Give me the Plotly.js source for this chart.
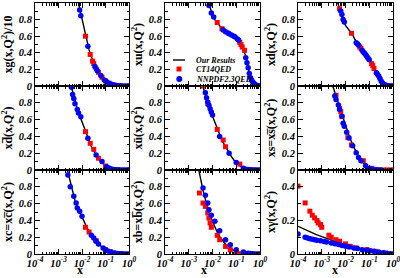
<!DOCTYPE html>
<html><head><meta charset="utf-8">
<script src="https://cdn.plot.ly/plotly-3.0.1.min.js"></script>
<style>html,body{margin:0;padding:0;background:#fff}#chart{width:400px;height:278px}</style>
</head><body><div id="chart"></div>
<script>
// ---------- data (x = momentum fraction, y = value) ----------
// xg/10
const gLineX = [0.00631,0.00794,0.01,0.0126,0.0158,0.02,0.0251,0.0316,0.0398,0.0501,0.0631,0.0794,0.1,0.126,0.158,0.251,0.398,0.631,1];
const gLineY = [1.06,0.93,0.80,0.67,0.54,0.435,0.35,0.27,0.21,0.16,0.12,0.085,0.06,0.04,0.025,0.01,0.003,0.001,0];
const gCtX = [0.0141,0.0224,0.0282,0.0316,0.0501,0.0708,0.1,0.141,0.224];
const gCtY = [0.60,0.38,0.30,0.27,0.165,0.105,0.062,0.033,0.012];
const gNnX = [0.00794,0.00891,0.0178,0.0355,0.0398,0.0447,0.0631,0.0891,0.112,0.141,0.178,0.224,0.282,0.355,0.447,0.562,0.708,0.891,1];
const gNnY = [0.916,0.847,0.48,0.235,0.21,0.185,0.125,0.073,0.05,0.033,0.02,0.012,0.007,0.004,0.002,0.001,0,0,0];
// xu
const uLineX = [0.00631,0.00794,0.01,0.0126,0.0158,0.02,0.0251,0.0316,0.0398,0.0501,0.0631,0.0794,0.1,0.126,0.158,0.2,0.251,0.282,0.316,0.355,0.398,0.501,0.631,0.794,1];
const uLineY = [1.03,0.94,0.86,0.80,0.76,0.72,0.69,0.665,0.645,0.63,0.615,0.60,0.58,0.55,0.50,0.44,0.36,0.30,0.22,0.15,0.10,0.045,0.015,0.003,0];
const uCtX = [0.0158,0.0251,0.141,0.158,0.178,0.224,0.891];
const uCtY = [0.765,0.69,0.525,0.50,0.47,0.43,0];
const uNnX = [0.00708,0.00891,0.0112,0.0282,0.0355,0.0447,0.0501,0.0631,0.0794,0.0891,0.112,0.126,0.251,0.282,0.316,0.355,0.398,0.447,0.501,0.562,0.631,0.708,0.794,0.891,1];
const uNnY = [0.97,0.88,0.83,0.675,0.655,0.64,0.63,0.615,0.60,0.59,0.565,0.55,0.34,0.28,0.22,0.15,0.10,0.07,0.045,0.03,0.015,0.008,0.003,0.001,0];
// xd
const dLineX = [0.00398,0.00501,0.00631,0.00794,0.01,0.0126,0.0158,0.02,0.0251,0.0316,0.0398,0.0501,0.0631,0.0794,0.1,0.126,0.158,0.2,0.251,0.316,0.398,0.501,0.631,1];
const dLineY = [1.07,0.98,0.89,0.79,0.73,0.69,0.655,0.615,0.56,0.52,0.475,0.435,0.395,0.355,0.315,0.27,0.22,0.17,0.12,0.065,0.03,0.01,0.003,0];
const dCtX = [0.00562,0.0178,0.0398,0.0447,0.126,0.141,0.158,0.794];
const dCtY = [0.93,0.635,0.47,0.455,0.27,0.245,0.21,0];
const dNnX = [0.00631,0.00708,0.00794,0.00891,0.0282,0.0316,0.0355,0.0501,0.0562,0.0631,0.0708,0.0794,0.0891,0.1,0.2,0.224,0.251,0.282,0.316,0.355,0.398,0.447,0.501,0.631,0.794,1];
const dNnY = [0.905,0.86,0.80,0.77,0.52,0.51,0.49,0.43,0.41,0.395,0.375,0.355,0.335,0.315,0.16,0.14,0.12,0.09,0.06,0.04,0.025,0.015,0.008,0.003,0,0];
// xdbar
const dbLineX = [0.00316,0.00398,0.00501,0.00631,0.00794,0.01,0.0126,0.0158,0.02,0.0251,0.0316,0.0398,0.0501,0.0631,0.0794,0.1,0.126,0.158,0.251,0.398,1];
const dbLineY = [1.04,0.93,0.82,0.73,0.65,0.575,0.49,0.41,0.34,0.28,0.225,0.175,0.135,0.10,0.07,0.048,0.03,0.018,0.006,0.001,0];
const dbCtX = [0.0141,0.0224,0.0316,0.0501,0.1];
const dbCtY = [0.456,0.318,0.246,0.14,0.048];
const dbNnX = [0.00355,0.00398,0.00447,0.00501,0.00631,0.00708,0.00891,0.0178,0.0398,0.0708,0.112,0.141,0.178,0.224,0.282,0.355,0.447,0.562,0.708,0.891,1];
const dbNnY = [0.985,0.90,0.85,0.79,0.72,0.68,0.635,0.377,0.18,0.10,0.04,0.025,0.012,0.007,0.004,0.002,0.001,0,0,0,0];
// xubar
const ubLineX = [0.00355,0.00398,0.00501,0.00631,0.00794,0.01,0.0126,0.0158,0.02,0.0251,0.0316,0.0398,0.0501,0.0631,0.0794,0.1,0.126,0.158,0.2,0.251,0.398,1];
const ubLineY = [1.04,0.99,0.90,0.80,0.71,0.64,0.565,0.49,0.415,0.355,0.30,0.25,0.20,0.16,0.12,0.09,0.065,0.04,0.022,0.01,0.002,0];
const ubCtX = [0.00398,0.00631,0.0158,0.0282,0.0355,0.141,0.562];
const ubCtY = [1.0,0.79,0.484,0.357,0.277,0.07,0];
const ubNnX = [0.00501,0.00562,0.00631,0.00708,0.00794,0.00891,0.01,0.02,0.0501,0.1,0.2,0.251,0.316,0.398,0.501,0.631,0.794,1];
const ubNnY = [0.92,0.86,0.81,0.77,0.73,0.69,0.655,0.40,0.20,0.09,0.02,0.01,0.005,0.002,0.001,0,0,0];
// xs = xsbar
const sLineX = [0.00282,0.00316,0.00398,0.00501,0.00631,0.00794,0.01,0.0126,0.0158,0.02,0.0251,0.0316,0.0398,0.0501,0.0631,0.0794,0.1,0.126,0.158,0.251,1];
const sLineY = [1.0,0.97,0.88,0.79,0.70,0.61,0.53,0.45,0.37,0.30,0.245,0.19,0.14,0.10,0.065,0.04,0.022,0.012,0.005,0.001,0];
const sCtX = [0.00398,0.00562,0.00631,0.00708,0.0126,0.0178,0.0562,0.126,0.251,0.398,0.562,0.794,1];
const sCtY = [0.89,0.734,0.694,0.635,0.385,0.298,0.11,0.02,0,0,0,0,0];
const sNnX = [0.00355,0.00398,0.00501,0.00562,0.00708,0.00794,0.00891,0.0112,0.0141,0.02,0.0282,0.0355,0.0447,0.0708,0.1,0.126,0.158,0.2,0.251,0.316];
const sNnY = [0.88,0.84,0.774,0.72,0.64,0.556,0.52,0.45,0.38,0.29,0.206,0.15,0.11,0.05,0.02,0.01,0.005,0.002,0.001,0];
// xc = xcbar
const cLineX = [0.00224,0.00251,0.00316,0.00398,0.00501,0.00631,0.00794,0.01,0.0126,0.0158,0.02,0.0251,0.0316,0.0398,0.0501,0.0631,0.0794,0.1,0.126,0.158,0.251,0.398,0.631,1];
const cLineY = [1.03,0.97,0.85,0.73,0.64,0.565,0.50,0.44,0.38,0.32,0.27,0.225,0.185,0.15,0.12,0.095,0.07,0.05,0.036,0.025,0.01,0.003,0.001,0];
const cCtX = [0.0141,0.02,0.0398,0.1,0.158];
const cCtY = [0.318,0.262,0.16,0.05,0.025];
const cNnX = [0.00251,0.00316,0.00447,0.00562,0.00631,0.00794,0.01,0.0251,0.0316,0.0398,0.0501,0.0794,0.1,0.126,0.178,0.251,0.316,0.398,0.501,0.631,0.794,1];
const cNnY = [0.94,0.80,0.687,0.607,0.548,0.508,0.448,0.222,0.19,0.151,0.12,0.071,0.05,0.035,0.024,0.012,0.007,0.004,0.002,0.001,0,0];
// xb = xbbar
const bLineX = [0.00251,0.00316,0.00398,0.00501,0.00631,0.00794,0.01,0.0126,0.0158,0.02,0.0251,0.0316,0.0398,0.0501,0.0631,0.0794,0.1,0.158,0.251,0.398,1];
const bLineY = [1.03,0.88,0.76,0.65,0.55,0.46,0.39,0.32,0.26,0.21,0.165,0.13,0.105,0.08,0.058,0.04,0.025,0.01,0.003,0.001,0];
const bCtX = [0.00282,0.00398,0.00501,0.00631,0.00708,0.00794,0.00891,0.0158,0.02,0.0355,0.0562,0.1,0.158,0.251];
const bCtY = [0.726,0.607,0.567,0.488,0.428,0.369,0.318,0.222,0.17,0.09,0.05,0.01,0.003,0];
const bNnX = [0.00398,0.00501,0.00631,0.00708,0.00891,0.0126,0.02,0.0355,0.0562,0.1,0.2,0.316,0.398,0.501,0.631,0.794,1];
const bNnY = [0.786,0.70,0.607,0.528,0.46,0.389,0.278,0.17,0.11,0.05,0.024,0.01,0.005,0.002,0.001,0,0];
// x gamma
const aLineX = [1e-4,1.78e-4,3.16e-4,5.62e-4,1e-3,1.78e-3,3.16e-3,5.62e-3,0.01,0.0178,0.0316,0.0562,0.1,0.178,0.316,0.562,1];
const aLineY = [0.165,0.148,0.131,0.117,0.103,0.09,0.076,0.064,0.054,0.045,0.036,0.028,0.02,0.013,0.007,0.003,0];
const aCtX = [1e-4,2e-4,3.16e-4,3.98e-4,5.01e-4,6.31e-4,7.08e-4,8.91e-4,1e-3,2e-3,2.51e-3,3.98e-3,5.62e-3,0.01,0.0158,0.0282,0.0794,0.178,0.398,0.708];
const aCtY = [0.404,0.304,0.255,0.231,0.215,0.199,0.185,0.175,0.159,0.112,0.10,0.085,0.076,0.06,0.046,0.036,0.026,0.016,0.006,0];
const aNnX = [1e-4,2e-4,2.51e-4,3.16e-4,3.98e-4,5.01e-4,6.31e-4,8.91e-4,1.26e-3,1.58e-3,2.51e-3,3.55e-3,5.01e-3,7.08e-3,0.01,0.0141,0.0224,0.0316,0.0501,0.0794,0.112,0.158,0.251,0.398,0.562,0.794,1];
const aNnY = [0.119,0.10,0.095,0.091,0.088,0.085,0.082,0.079,0.075,0.072,0.066,0.061,0.056,0.05,0.046,0.041,0.036,0.032,0.026,0.022,0.02,0.016,0.012,0.008,0.004,0.001,0];

const yTitles = ['xg(x,Q<sup>2</sup>)/10','xu(x,Q<sup>2</sup>)','xd(x,Q<sup>2</sup>)',
  'xd\u0305(x,Q<sup>2</sup>)','x\u016B(x,Q<sup>2</sup>)','xs=xs\u0305(x,Q<sup>2</sup>)',
  'xc=xc\u0305(x,Q<sup>2</sup>)','xb=xb\u0305(x,Q<sup>2</sup>)','x\u03B3(x,Q<sup>2</sup>)'];
const xTitle = 'x';
const xTickVals = [1e-4,1e-3,1e-2,1e-1,1];
const xTickText = ['10<sup>-4</sup>','10<sup>-3</sup>','10<sup>-2</sup>','10<sup>-1</sup>','10<sup>0</sup>'];
const seriesNames = ['Our Results','CT14QED','NNPDF2.3QED'];

// ---------- build ----------
const panels = [
  [gLineX,gLineY,gCtX,gCtY,gNnX,gNnY],[uLineX,uLineY,uCtX,uCtY,uNnX,uNnY],[dLineX,dLineY,dCtX,dCtY,dNnX,dNnY],
  [dbLineX,dbLineY,dbCtX,dbCtY,dbNnX,dbNnY],[ubLineX,ubLineY,ubCtX,ubCtY,ubNnX,ubNnY],[sLineX,sLineY,sCtX,sCtY,sNnX,sNnY],
  [cLineX,cLineY,cCtX,cCtY,cNnX,cNnY],[bLineX,bLineY,bCtX,bCtY,bNnX,bNnY],[aLineX,aLineY,aCtX,aCtY,aNnX,aNnY]
];
const W = 400, H = 278;
const cols = [[35/W,129/W],[165/W,260/W],[298/W,393/W]];
const rows = [[(H-86)/H,(H-3)/H],[(H-170)/H,(H-86)/H],[(H-254)/H,(H-170)/H]];
const xTitlePos = [80,204,335];
const FONT = 'Liberation Serif, Times New Roman, serif';
const yTickFont = {family:FONT,size:10.5,color:'#000',weight:'bold',style:'italic'};
const xTickFont = {family:FONT,size:10.5,color:'#000',weight:'bold',style:'italic'};
const minorX = [];
for (let e=-4;e<0;e++) for (let m=2;m<=9;m++) minorX.push(m*Math.pow(10,e));
const px = v=>v/W, py = v=>(H-v)/H;

const traces = [];
const layout = {
  width:W,height:H,margin:{l:0,r:0,t:0,b:0},paper_bgcolor:'#fff',plot_bgcolor:'#fff',
  showlegend:false,font:{family:FONT,color:'#000'},shapes:[],annotations:[]
};
panels.forEach((p,i)=>{
  const r = Math.floor(i/3), c = i%3, s = i===0?'':String(i+1);
  traces.push({x:p[0],y:p[1],xaxis:'x'+s,yaxis:'y'+s,mode:'lines',name:seriesNames[0],line:{color:'#000',width:1.4},hoverinfo:'skip'});
  traces.push({x:p[2],y:p[3],xaxis:'x'+s,yaxis:'y'+s,mode:'markers',name:seriesNames[1],marker:{symbol:'square',color:'#ff0000',size:5}});
  traces.push({x:p[4],y:p[5],xaxis:'x'+s,yaxis:'y'+s,mode:'markers',name:seriesNames[2],marker:{symbol:'circle',color:'#0000ff',size:5.5}});
  const yTop = i===8?0.5:1;
  let yv = r===0?[0,0.2,0.4,0.6,0.8,1]:(i===8?[0,0.2,0.4]:[0,0.2,0.4,0.6,0.8]);
  layout['xaxis'+s] = {
    domain:cols[c],anchor:'y'+s,type:'log',range:[-4,0],showline:true,linecolor:'#000',linewidth:1,
    mirror:'ticks',ticks:'inside',ticklen:5,tickcolor:'#000',tickwidth:1,tickmode:'array',tickvals:xTickVals,ticktext:xTickText,
    showticklabels:r===2,ticklabeloverflow:'allow',ticklabelstandoff:-1,tickfont:xTickFont,showgrid:false,zeroline:false,fixedrange:true,
    minor:{ticks:'inside',ticklen:2.5,tickcolor:'#000',tickwidth:1,tickmode:'array',tickvals:minorX,showgrid:false}
  };
  layout['yaxis'+s] = {
    domain:rows[r],anchor:'x'+s,range:[0,yTop],showline:true,linecolor:'#000',linewidth:1,
    mirror:'ticks',ticks:'inside',ticklen:5,tickcolor:'#000',tickwidth:1,tickmode:'array',tickvals:yv,
    ticktext:yv.map(v=>String(v)),tickfont:yTickFont,showgrid:false,zeroline:false,fixedrange:true,
    minor:{ticks:'inside',ticklen:2.5,tickcolor:'#000',tickwidth:1,dtick:0.1,showgrid:false},
    title:{text:'<b>'+yTitles[i]+'</b>',font:{family:FONT,size:12,color:'#000'},standoff:3}
  };
  if (r===2) {
    layout.annotations.push({xref:'paper',yref:'paper',x:px(xTitlePos[c]),y:0,xanchor:'center',yanchor:'bottom',borderpad:0,
      text:'<b>'+xTitle+'</b>',showarrow:false,font:{family:FONT,size:12,color:'#000'}});
  }
});

// legend drawn in the xu panel (paper coordinates)
layout.shapes.push({type:'line',xref:'paper',yref:'paper',x0:px(173),x1:px(185),y0:py(60),y1:py(60),line:{color:'#000',width:1.4}});
layout.shapes.push({type:'rect',xref:'paper',yref:'paper',x0:px(176.5),x1:px(181.5),y0:py(71.5),y1:py(66.5),fillcolor:'#ff0000',line:{width:0}});
layout.shapes.push({type:'circle',xref:'paper',yref:'paper',x0:px(176.3),x1:px(182.3),y0:py(82),y1:py(76),fillcolor:'#0000ff',line:{width:0}});
const legFont = {family:FONT,size:8,color:'#000',weight:'bold',style:'italic'};
[[60,seriesNames[0]],[69,seriesNames[1]],[79,seriesNames[2]]].forEach(([yy,t])=>{
  layout.annotations.push({xref:'paper',yref:'paper',x:px(194),y:py(yy),xanchor:'left',yanchor:'middle',text:t,showarrow:false,font:legFont});
});

Plotly.newPlot('chart',traces,layout,{staticPlot:true,displayModeBar:false});
</script></body></html>
